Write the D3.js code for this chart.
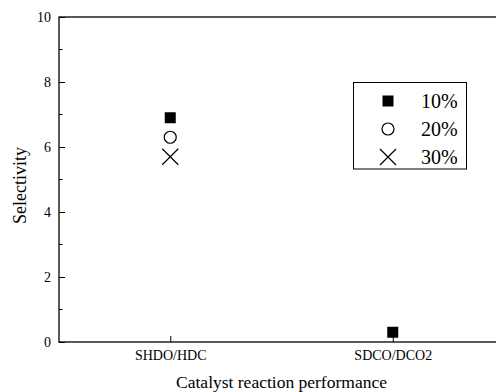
<!DOCTYPE html>
<html>
  <body style="margin:0;background:#fff">
    <div id="chart"></div>
    <script src="https://cdn.jsdelivr.net/npm/d3@7"></script>
    <script>
// categories and values
var categories = ["SHDO/HDC", "SDCO/DCO2"];
var series = ["10%", "20%", "30%"];
var values10 = [6.9, 0.3];
var values20 = [6.3, null];
var values30 = [5.7, null];
var yTicks = [0, 2, 4, 6, 8, 10];

var width = 496, height = 392;
var margin = {left: 59, top: 17, right: -8, bottom: 50};
var serif = "'Liberation Serif', 'Times New Roman', serif";

var svg = d3.select("#chart").append("svg")
  .attr("width", width)
  .attr("height", height)
  .style("font-family", serif);

var x = d3.scalePoint()
  .domain(categories)
  .range([margin.left, width - margin.right])
  .padding(0.5);

var y = d3.scaleLinear()
  .domain([0, 10])
  .range([height - margin.bottom, margin.top]);

// frame (right side falls off the picture)
svg.append("rect")
  .attr("x", margin.left)
  .attr("y", margin.top)
  .attr("width", width - margin.right - margin.left)
  .attr("height", y(0) - y(10))
  .attr("fill", "none")
  .attr("stroke", "#000")
  .attr("stroke-width", 1.3);

// y axis, ticks pointing in
var yAxis = svg.append("g")
  .attr("transform", "translate(" + margin.left + ",0)")
  .call(d3.axisLeft(y).tickValues(yTicks).tickSize(-6).tickPadding(8).tickFormat(d3.format("d")))
  .attr("font-family", serif)
  .attr("font-size", 14);
yAxis.select(".domain").remove();

// minor y ticks
svg.append("g")
  .selectAll("line")
  .data(d3.range(1, 10, 2))
  .join("line")
  .attr("x1", margin.left)
  .attr("x2", margin.left + 3.5)
  .attr("y1", d => y(d))
  .attr("y2", d => y(d))
  .attr("stroke", "#000");

// x axis, ticks pointing in
var xAxis = svg.append("g")
  .attr("transform", "translate(0," + y(0) + ")")
  .call(d3.axisBottom(x).tickSize(-6).tickPadding(8))
  .attr("font-family", serif)
  .attr("font-size", 14);
xAxis.select(".domain").remove();

// axis titles
svg.append("text")
  .attr("transform", "translate(26," + (y(5) + 6) + ") rotate(-90)")
  .attr("text-anchor", "middle")
  .style("font-size", "18px")
  .text("Selectivity");

svg.append("text")
  .attr("x", (margin.left + width - margin.right) / 2)
  .attr("y", 388)
  .attr("text-anchor", "middle")
  .style("font-size", "17.5px")
  .text("Catalyst reaction performance");

// symbols
function drawSymbol(g, kind, cx, cy) {
  if (kind === 0) {
    g.append("rect")
      .attr("x", cx - 5.5).attr("y", cy - 5.5)
      .attr("width", 11).attr("height", 11)
      .attr("fill", "#000");
  } else if (kind === 1) {
    g.append("circle")
      .attr("cx", cx).attr("cy", cy).attr("r", 6)
      .attr("fill", "none").attr("stroke", "#000").attr("stroke-width", 1.2);
  } else {
    g.append("path")
      .attr("d", "M" + (cx - 8) + "," + (cy - 8) + "L" + (cx + 8) + "," + (cy + 8) +
                 "M" + (cx + 8) + "," + (cy - 8) + "L" + (cx - 8) + "," + (cy + 8))
      .attr("stroke", "#000").attr("stroke-width", 1.2).attr("fill", "none");
  }
}

var allValues = [values10, values20, values30];
var marks = svg.append("g");
allValues.forEach(function(vals, k) {
  vals.forEach(function(v, i) {
    if (v == null) return;
    drawSymbol(marks, k, x(categories[i]), y(v));
  });
});

// legend
var legend = svg.append("g");
legend.append("rect")
  .attr("x", 353.5).attr("y", 82.5)
  .attr("width", 113).attr("height", 86.5)
  .attr("fill", "#fff").attr("stroke", "#000").attr("stroke-width", 1);

series.forEach(function(s, k) {
  var ly = 101 + k * 28;
  drawSymbol(legend, k, 388, ly);
  legend.append("text")
    .attr("x", 421)
    .attr("y", ly + 7)
    .style("font-size", "20px")
    .text(s);
});
    </script>
  </body>
</html>
